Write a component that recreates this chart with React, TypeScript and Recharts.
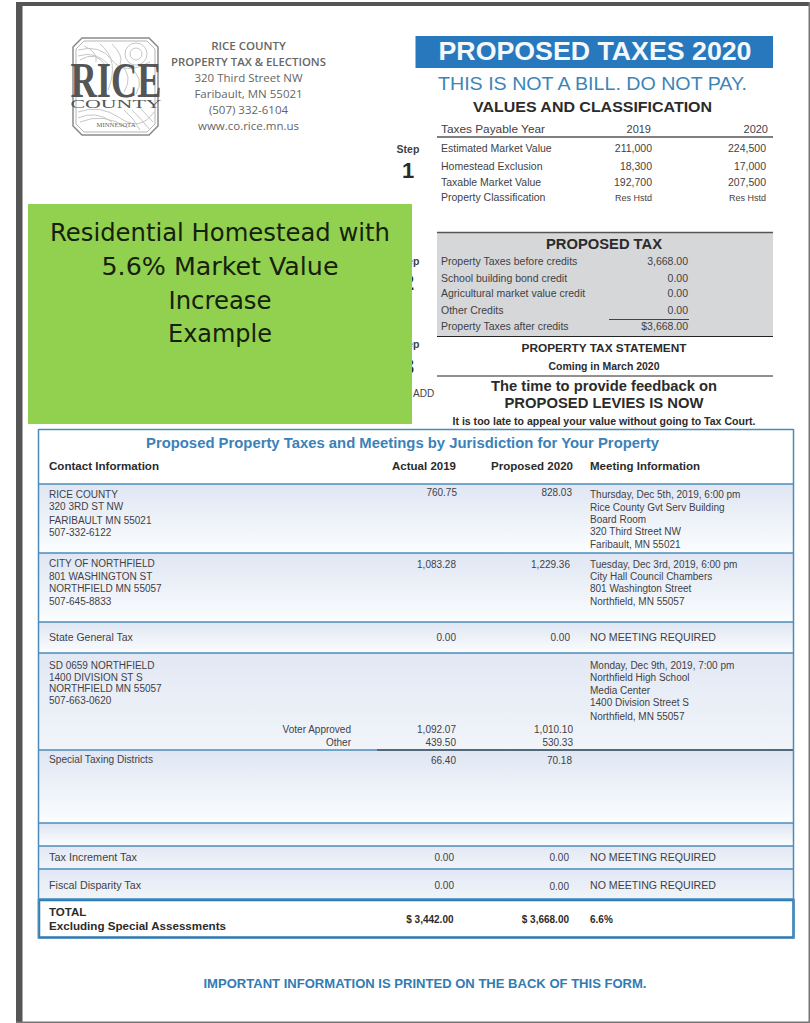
import React from 'react';
import { ScatterChart, Scatter, XAxis, YAxis, ReferenceArea, ReferenceLine } from 'recharts';

// page text
const addressLines = ['RICE COUNTY', 'PROPERTY TAX & ELECTIONS', '320 Third Street NW', 'Faribault, MN 55021', '(507) 332-6104', 'www.co.rice.mn.us'];
const noteLines = ['Residential Homestead with', '5.6% Market Value', 'Increase', 'Example'];

const valueLabels = ['Estimated Market Value', 'Homestead Exclusion', 'Taxable Market Value', 'Property Classification'];
const values2019 = ['211,000', '18,300', '192,700', 'Res Hstd'];
const values2020 = ['224,500', '17,000', '207,500', 'Res Hstd'];

const creditLabels = ['Property Taxes before credits', 'School building bond credit', 'Agricultural market value credit', 'Other Credits', 'Property Taxes after credits'];
const creditValues = ['3,668.00', '0.00', '0.00', '0.00', '$3,668.00'];

const countyContact = ['RICE COUNTY', '320 3RD ST NW', 'FARIBAULT MN 55021', '507-332-6122'];
const cityContact = ['CITY OF NORTHFIELD', '801 WASHINGTON ST', 'NORTHFIELD MN 55057', '507-645-8833'];
const schoolContact = ['SD 0659 NORTHFIELD', '1400 DIVISION ST S', 'NORTHFIELD MN 55057', '507-663-0620'];
const countyMeeting = ['Thursday, Dec 5th, 2019, 6:00 pm', 'Rice County Gvt Serv Building', 'Board Room', '320 Third Street NW', 'Faribault, MN 55021'];
const cityMeeting = ['Tuesday, Dec 3rd, 2019, 6:00 pm', 'City Hall Council Chambers', '801 Washington Street', 'Northfield, MN 55057'];
const schoolMeeting = ['Monday, Dec 9th, 2019, 7:00 pm', 'Northfield High School', 'Media Center', '1400 Division Street S', 'Northfield, MN 55057'];

const amountRows = ['county', 'city', 'state', 'voter', 'other', 'special', 'increment', 'fiscal'];
const actual2019 = ['760.75', '1,083.28', '0.00', '1,092.07', '439.50', '66.40', '0.00', '0.00'];
const proposed2020 = ['828.03', '1,229.36', '0.00', '1,010.10', '530.33', '70.18', '0.00', '0.00'];

// layout of the sheet, in page pixels
const amountY = [496, 568, 641, 733, 745.5, 764, 861, 889];
const actualRight = [457, 456, 456, 456, 456, 456, 454, 454];
const proposedRight = [572, 570, 570, 573, 573, 572, 569, 569];
const rowBreaks = [484, 553, 622, 653, 750, 823, 846, 869, 899];

const SANS = '"Liberation Sans", Arial, sans-serif';
const LOGO = '"Open Sans", sans-serif';
const NOTE = '"DejaVu Sans", sans-serif';
const SERIF = '"Liberation Serif", serif';
const DARK = '#2b2b2b';
const BODY = '#3f3f46';
const BLUE = '#3a82b8';

type Item = {
  x: number; y: number; text: string; size: number; anchor?: string; weight?: number;
  fill?: string; family?: string; width?: number; clip?: boolean;
};

const items: Item[] = [];
const put = (text: string, x: number, y: number, size: number, extra: Partial<Item> = {}) =>
  items.push({ text, x, y, size, fill: BODY, family: SANS, ...extra });
const stack = (lines: string[], x: number, ys: number[], size: number, extra: Partial<Item> = {}) =>
  lines.forEach((line, i) => put(line, x, ys[i], size, extra));

// letterhead
addressLines.forEach((line, i) =>
  put(line, 248.5, 50 + i * 16, 11.5, { anchor: 'middle', family: LOGO, fill: '#666', weight: i < 2 ? 600 : 400, width: i === 1 ? 155 : undefined }));
put('RICE', 116, 97, 50, { anchor: 'middle', family: SERIF, fill: '#555', width: 91, weight: 700 });
put('COUNTY', 116, 108, 13, { anchor: 'middle', family: SERIF, fill: '#555', width: 91 });
put('MINNESOTA', 116, 127, 6.5, { anchor: 'middle', family: SERIF, fill: '#666', width: 39 });

// header block
put('PROPOSED TAXES 2020', 595, 60, 26, { anchor: 'middle', weight: 700, fill: '#f4f8fb', width: 313 });
put('THIS IS NOT A BILL. DO NOT PAY.', 592.5, 90, 19, { anchor: 'middle', fill: '#3a85b8', width: 309 });
put('VALUES AND CLASSIFICATION', 592.5, 112, 15.5, { anchor: 'middle', weight: 700, fill: DARK, width: 239 });
put('Taxes Payable Year', 441, 133, 11, { width: 104 });
put('2019', 651, 133, 11, { anchor: 'end' });
put('2020', 768, 133, 11, { anchor: 'end' });

const valueY = [152, 170, 186, 201];
stack(valueLabels, 441, valueY, 10.5);
values2019.forEach((v, i) => put(v, 652, valueY[i], i === 3 ? 9 : 10.5, { anchor: 'end' }));
values2020.forEach((v, i) => put(v, 766, valueY[i], i === 3 ? 9 : 10.5, { anchor: 'end' }));

// steps, partly covered by the green note
put('Step', 408, 153, 10.5, { anchor: 'middle', weight: 700, clip: true });
put('1', 408, 178, 22, { anchor: 'middle', weight: 700, fill: DARK, clip: true });
put('Step', 408, 265, 10.5, { anchor: 'middle', weight: 700, clip: true });
put('2', 408, 290, 22, { anchor: 'middle', weight: 700, fill: DARK, clip: true });
put('Step', 408, 348, 10.5, { anchor: 'middle', weight: 700, clip: true });
put('3', 408, 374, 22, { anchor: 'middle', weight: 700, fill: DARK, clip: true });
put('ADD', 413, 397, 10, { clip: true });

// proposed tax panel
put('PROPOSED TAX', 604, 249, 14.5, { anchor: 'middle', weight: 700, fill: DARK, width: 116 });
const creditY = [264.5, 281.5, 297, 313.5, 329.5];
stack(creditLabels, 441, creditY, 10.5);
creditValues.forEach((v, i) => put(v, 688, creditY[i], 10.5, { anchor: 'end' }));
put('PROPERTY TAX STATEMENT', 604, 352, 11, { anchor: 'middle', weight: 700, fill: DARK, width: 165 });
put('Coming in March 2020', 604, 370, 10, { anchor: 'middle', weight: 700, fill: DARK, width: 111 });
put('The time to provide feedback on', 604, 391, 14.5, { anchor: 'middle', weight: 700, fill: DARK, width: 226 });
put('PROPOSED LEVIES IS NOW', 604, 408, 14.5, { anchor: 'middle', weight: 700, fill: DARK, width: 199 });
put('It is too late to appeal your value without going to Tax Court.', 604, 425, 10, { anchor: 'middle', weight: 700, fill: DARK, width: 303 });

// jurisdiction table
put('Proposed Property Taxes and Meetings by Jurisdiction for Your Property', 402.5, 448, 14.5, { anchor: 'middle', weight: 700, fill: BLUE, width: 513 });
put('Contact Information', 49, 470, 11.5, { weight: 700, fill: DARK, width: 110 });
put('Actual 2019', 456, 470, 11.5, { anchor: 'end', weight: 700, fill: DARK, width: 64 });
put('Proposed 2020', 573, 470, 11.5, { anchor: 'end', weight: 700, fill: DARK, width: 82 });
put('Meeting Information', 590, 470, 11.5, { weight: 700, fill: DARK, width: 110 });

stack(countyContact, 49, [498, 510, 523.5, 536], 10);
stack(cityContact, 49, [567, 580, 592, 605], 10);
stack(schoolContact, 49, [668.5, 680.5, 692, 704], 10);
stack(countyMeeting, 590, [497.5, 511, 523, 535, 548], 10);
stack(cityMeeting, 590, [567.5, 580, 592, 605], 10);
stack(schoolMeeting, 590, [668.5, 681, 694, 706, 720], 10);

amountRows.forEach((_, i) => {
  put(actual2019[i], actualRight[i], amountY[i], 10, { anchor: 'end' });
  put(proposed2020[i], proposedRight[i], amountY[i] + (i === 7 ? 1 : 0), 10, { anchor: 'end' });
});

put('State General Tax', 49, 641, 10.5);
put('Voter Approved', 351, 733, 10, { anchor: 'end' });
put('Other', 351, 745.5, 10, { anchor: 'end' });
put('Special Taxing Districts', 49, 763, 10, { width: 104 });
put('Tax Increment Tax', 49, 861, 10.5, { width: 88 });
put('Fiscal Disparity Tax', 49, 889, 10.5, { width: 92 });
[641, 861, 889].forEach(y => put('NO MEETING REQUIRED', 590, y, 10.5, { width: 126 }));

put('TOTAL', 49, 915.5, 11.5, { weight: 700, fill: DARK });
put('Excluding Special Assessments', 49, 930, 11, { weight: 700, fill: DARK, width: 177 });
put('$ 3,442.00', 453.5, 922.5, 10, { anchor: 'end', weight: 700, fill: DARK });
put('$ 3,668.00', 569, 922.5, 10, { anchor: 'end', weight: 700, fill: DARK });
put('6.6%', 590, 922.5, 10, { weight: 700, fill: DARK });
put('IMPORTANT INFORMATION IS PRINTED ON THE BACK OF THIS FORM.', 425, 988, 12, { anchor: 'middle', weight: 700, fill: '#2f7cb5', width: 443 });

// green note goes last so it sits on top
noteLines.forEach((line, i) =>
  put(line, 220, 241 + i * 33.8, 25, { anchor: 'middle', family: NOTE, fill: '#16210d', width: [340, 237, 103, 104][i] }));

const PageText = (props: any) => {
  const d: Item = props.payload;
  return (
    <text
      x={props.cx}
      y={props.cy}
      fontSize={d.size}
      fontFamily={d.family}
      fontWeight={d.weight ?? 400}
      fill={d.fill}
      textAnchor={d.anchor ?? 'start'}
      textLength={d.width}
      lengthAdjust={d.width ? 'spacingAndGlyphs' : undefined}
      clipPath={d.clip ? 'url(#beside-note)' : undefined}
    >
      {d.text}
    </text>
  );
};

const App = () => (
  <div style={{ position: 'absolute', left: 0, top: 0, width: 810, height: 1023, background: '#fff', overflow: 'hidden' }}>
    <ScatterChart width={810} height={1023} margin={{ top: 0, right: 0, bottom: 0, left: 0 }}>
      <defs>
        <linearGradient id="row-shade" x1="0" y1="0" x2="0" y2="1">
          <stop offset="0%" stopColor="#dfe6f3" />
          <stop offset="100%" stopColor="#fbfdfe" />
        </linearGradient>
        <linearGradient id="row-shade-soft" x1="0" y1="0" x2="0" y2="1">
          <stop offset="0%" stopColor="#e2e8f4" />
          <stop offset="100%" stopColor="#f1f5fa" />
        </linearGradient>
        <clipPath id="beside-note">
          <rect x={412} y={0} width={398} height={1023} />
          <rect x={0} y={0} width={810} height={204} />
        </clipPath>
      </defs>
      <XAxis type="number" dataKey="x" domain={[0, 810]} hide />
      <YAxis type="number" dataKey="y" domain={[0, 1023]} reversed hide />

      {/* sheet edge */}
      <ReferenceArea x1={16} x2={22.5} y1={2} y2={1023} fill="#555" fillOpacity={1} stroke="none" />
      <ReferenceArea x1={16} x2={810} y1={2} y2={6} fill="#555" fillOpacity={1} stroke="none" />
      <ReferenceArea x1={808.5} x2={810} y1={2} y2={1023} fill="#777" fillOpacity={1} stroke="none" />
      <ReferenceArea x1={16} x2={810} y1={1021.5} y2={1023} fill="#777" fillOpacity={1} stroke="none" />

      {/* header panels */}
      <ReferenceArea x1={415.5} x2={773} y1={36} y2={68} fill="#2878bd" fillOpacity={1} stroke="none" />
      <ReferenceArea x1={437} x2={773} y1={232.5} y2={336} fill="#d6d7d9" fillOpacity={1} stroke="none" />
      <ReferenceLine segment={[{ x: 437, y: 137 }, { x: 773, y: 137 }]} stroke="#555" strokeWidth={1.5} />
      <ReferenceLine segment={[{ x: 437, y: 232.5 }, { x: 773, y: 232.5 }]} stroke="#555" strokeWidth={1.5} />
      <ReferenceLine segment={[{ x: 437, y: 336.5 }, { x: 773, y: 336.5 }]} stroke="#222" strokeWidth={1.2} />
      <ReferenceLine segment={[{ x: 437, y: 376 }, { x: 773, y: 376 }]} stroke="#222" strokeWidth={1} />
      <ReferenceLine segment={[{ x: 609, y: 319.5 }, { x: 689, y: 319.5 }]} stroke="#444" strokeWidth={1} />

      {/* jurisdiction rows */}
      {rowBreaks.slice(0, -1).map((top, i) => (
        <ReferenceArea
          key={top}
          x1={38}
          x2={794}
          y1={top}
          y2={rowBreaks[i + 1]}
          fill={i === 3 || i >= 6 ? 'url(#row-shade-soft)' : 'url(#row-shade)'}
          fillOpacity={1}
          stroke="none"
        />
      ))}
      {rowBreaks.map(y => (
        <ReferenceLine key={y} segment={[{ x: 38, y }, { x: 794, y }]} stroke="#4b8cb8" strokeWidth={1.5} />
      ))}
      <ReferenceLine segment={[{ x: 377, y: 750 }, { x: 794, y: 750 }]} stroke="#333" strokeWidth={1.2} />
      <ReferenceLine segment={[{ x: 38.5, y: 429.5 }, { x: 793.5, y: 429.5 }]} stroke="#4b8cb8" strokeWidth={1.5} />
      <ReferenceLine segment={[{ x: 38.5, y: 429 }, { x: 38.5, y: 938 }]} stroke="#4b8cb8" strokeWidth={1.5} />
      <ReferenceLine segment={[{ x: 793.5, y: 429 }, { x: 793.5, y: 938 }]} stroke="#4b8cb8" strokeWidth={1.5} />
      <ReferenceArea x1={39} x2={793.5} y1={900} y2={937.5} fill="#fff" fillOpacity={1} stroke="#2b7ab5" strokeWidth={2.5} />

      {/* green note */}
      <ReferenceArea x1={28} x2={412} y1={204} y2={424} fill="#92d050" fillOpacity={1} stroke="none" />

      {/* county seal */}
      <g fill="none">
        <path d="M82 38 H149 L158 47 V126 L149 135 H82 L73 126 V47 Z" stroke="#8a8a8a" strokeWidth={1.5} />
        <path d="M84 41 H147 L155 49 V124 L147 132 H84 L76 124 V49 Z" stroke="#b5b5b5" strokeWidth={1} />
        <g stroke="#c6c6c6" strokeWidth={1}>
          <circle cx={136} cy={54} r={11} />
          <circle cx={136} cy={54} r={6} />
          <path d="M78 50 Q100 44 112 60 T150 62" />
          <path d="M78 56 Q96 50 110 66" />
          <path d="M80 60 Q96 50 106 66" />
          <path d="M84 46 Q98 52 96 62" />
          <path d="M100 44 Q120 60 108 90" />
          <path d="M112 44 Q124 56 120 64" />
          <path d="M120 64 Q134 76 124 92" />
          <path d="M128 66 Q146 78 136 94" />
          <path d="M78 112 Q100 104 120 118 T154 112" />
          <path d="M78 118 Q96 110 112 122" />
          <path d="M80 122 Q104 112 128 128" />
          <path d="M132 110 Q142 120 150 130" />
          <path d="M138 106 Q146 114 153 122" />
          <path d="M124 110 Q134 118 140 130" />
        </g>
      </g>

      <Scatter data={items} isAnimationActive={false} shape={PageText} />
    </ScatterChart>
  </div>
);

export default App;
